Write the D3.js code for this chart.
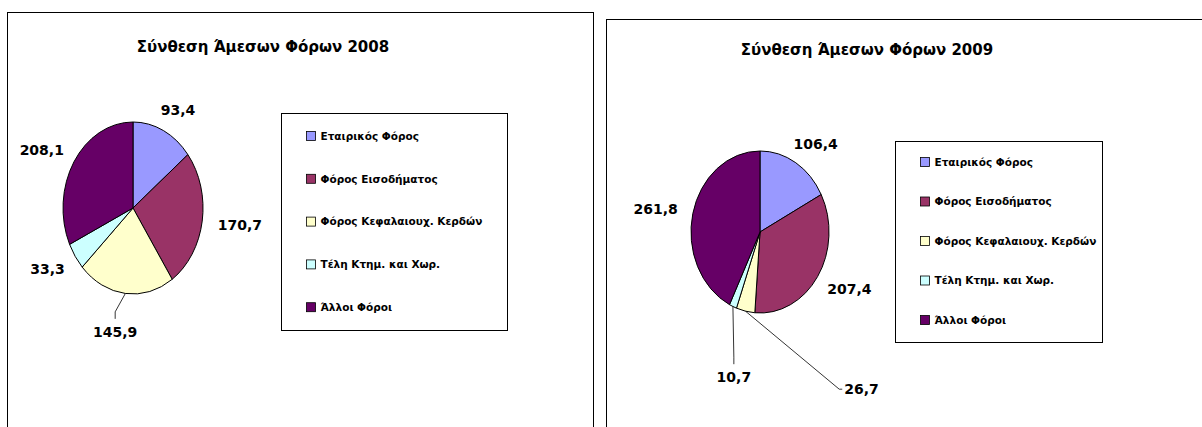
<!DOCTYPE html>
<html>
<head>
<meta charset="utf-8">
<title>Σύνθεση Άμεσων Φόρων</title>
<script src="https://d3js.org/d3.v7.min.js"></script>
<style>
    body { margin: 0; background: #fff; }
    svg { display: block; font-family: "DejaVu Sans", sans-serif; font-weight: bold; }
    .frame { fill: #fff; stroke: #000; stroke-width: 1px; }
    .title { font-size: 15px; text-anchor: middle; }
    .lbl { font-size: 14px; text-anchor: middle; }
    .leg text { font-size: 10.5px; }
    .slice { stroke: #000; stroke-width: 1px; vector-effect: non-scaling-stroke; }
    .leader { fill: none; stroke: #000; stroke-width: 0.8px; }
</style>
</head>
<body>
<svg id="chart"></svg>
<script>
    // data
    const categories = ["Εταιρικός Φόρος", "Φόρος Εισοδήματος", "Φόρος Κεφαλαιουχ. Κερδών", "Τέλη Κτημ. και Χωρ.", "Άλλοι Φόροι"];
    const years = ["2008", "2009"];
    const values2008 = [93.4, 170.7, 145.9, 33.3, 208.1];
    const values2009 = [106.4, 207.4, 26.7, 10.7, 261.8];
    const colors = ["#9999FF", "#993366", "#FFFFCC", "#CCFFFF", "#660066"];

    const W = 1202, H = 427;
    const svg = d3.select("#chart").attr("width", W).attr("height", H);

    const gr = d3.formatLocale({decimal: ",", thousands: ".", grouping: [3], currency: ["", "€"]});
    const fmt = gr.format(".1f");

    // layout of the two chart panels (labels moved by hand in the original get a leader line)
    const panels = [
        {values: values2008, year: years[0], frame: [7.5, 12.5, 586, 430], titleX: 263, titleY: 52,
         cx: 133, cy: 208, rx: 70, ry: 86, legend: [281.5, 113.5, 226, 217], legTop: 136, legStep: 42.8,
         moved: {2: [-6, 16]}},
        {values: values2009, year: years[1], frame: [606.5, 19.5, 610, 430], titleX: 867, titleY: 55,
         cx: 760, cy: 232, rx: 69, ry: 81, legend: [895.5, 141.5, 207, 201], legTop: 162, legStep: 39.5,
         moved: {2: [123, 56], 3: [14, 50]}}
    ];

    const pie = d3.pie().sort(null).value(d => d);
    const arc = d3.arc().innerRadius(0).outerRadius(1);

    panels.forEach(p => {
        svg.append("rect").attr("class", "frame")
            .attr("x", p.frame[0]).attr("y", p.frame[1])
            .attr("width", p.frame[2]).attr("height", p.frame[3]);

        svg.append("text").attr("class", "title")
            .attr("x", p.titleX).attr("y", p.titleY)
            .text("Σύνθεση Άμεσων Φόρων " + p.year);

        const arcs = pie(p.values);

        // pie drawn on a unit circle and stretched to the ellipse of the plot area
        svg.append("g")
            .attr("transform", `translate(${p.cx},${p.cy}) scale(${p.rx},${p.ry})`)
            .selectAll("path")
            .data(arcs)
            .join("path")
            .attr("class", "slice")
            .attr("d", arc)
            .attr("fill", (d, i) => colors[i]);

        // data labels
        const gap = 16, h = 13;
        arcs.forEach((d, i) => {
            const a = (d.startAngle + d.endAngle) / 2;
            const s = Math.sin(a), c = Math.cos(a);
            const ex = p.cx + p.rx * s, ey = p.cy - p.ry * c;
            const t = svg.append("text").attr("class", "lbl").attr("dy", "0.36em").text(fmt(d.data));
            const w = t.node().getComputedTextLength();
            let lx = ex + gap * s + (w / 2) * s;
            let ly = ey - gap * c - (h / 2) * c;
            const mv = p.moved[i];
            if (mv) {
                lx += mv[0];
                ly += mv[1];
                // leader line from the slice edge to the label box
                const dx = lx - ex, dy = ly - ey;
                let pts;
                if (Math.abs(dx) > Math.abs(dy) * 1.2) {
                    const sx = lx - Math.sign(dx) * (w / 2 + 2);
                    pts = [[ex, ey], [sx - Math.sign(dx) * 3, ly], [sx, ly]];
                } else {
                    const sy = ly - Math.sign(dy) * 13;
                    pts = [[ex, ey], [lx, sy - Math.sign(dy) * 7], [lx, sy]];
                }
                svg.append("path").attr("class", "leader").attr("d", d3.line()(pts));
            }
            t.attr("x", lx).attr("y", ly);
        });

        // legend
        const lg = svg.append("g").attr("class", "leg");
        lg.append("rect").attr("class", "frame")
            .attr("x", p.legend[0]).attr("y", p.legend[1])
            .attr("width", p.legend[2]).attr("height", p.legend[3]);
        const sx = p.legend[0] + 25;
        const items = lg.selectAll("g.item")
            .data(categories)
            .join("g")
            .attr("class", "item")
            .attr("transform", (d, i) => `translate(${sx},${p.legTop + i * p.legStep})`);
        items.append("rect")
            .attr("x", 0).attr("y", -4.5).attr("width", 9).attr("height", 9)
            .attr("fill", (d, i) => colors[i])
            .attr("stroke", "#000").attr("stroke-width", 0.8);
        items.append("text")
            .attr("x", 14).attr("dy", "0.36em")
            .text(d => d);
    });
</script>
</body>
</html>
